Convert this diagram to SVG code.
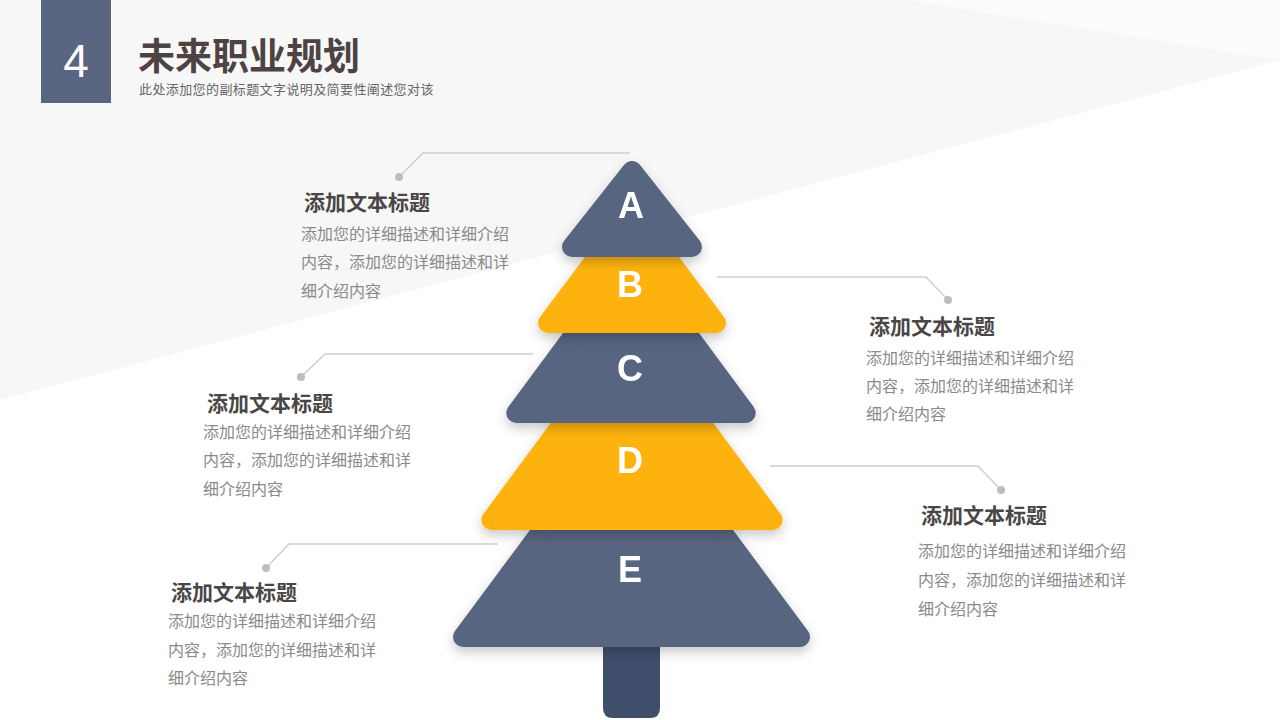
<svg xmlns="http://www.w3.org/2000/svg" width="1280" height="720" viewBox="0 0 1280 720">
<defs>
<style>
.slate{fill:#596581;stroke:#596581;stroke-width:20;stroke-linejoin:round}
.gold{fill:#feb20a;stroke:#feb20a;stroke-width:20;stroke-linejoin:round}
.ltr{font-family:"Liberation Sans",Arial,sans-serif;font-weight:bold;font-size:36px;fill:#ffffff;text-anchor:middle}
.ttl{font-family:"Noto Sans CJK SC","Liberation Sans",sans-serif;font-weight:bold;font-size:21px;fill:#4a4646}
.body{font-family:"Noto Sans CJK SC","Liberation Sans",sans-serif;font-size:16px;fill:#8a8a8a}
.con{fill:none;stroke:#cfcfcf;stroke-width:1.5}
.dot{fill:#bdbdbd}
</style>
<filter id="sh" x="-20%" y="-20%" width="140%" height="150%">
<feDropShadow dx="0" dy="5" stdDeviation="6" flood-color="#000000" flood-opacity="0.22"/>
</filter>
</defs>
<rect width="1280" height="720" fill="#ffffff"/>
<polygon points="0,0 1280,0 1280,60 0,400" fill="#f7f7f8"/>
<polygon points="910,0 1280,0 1280,60" fill="#fcfcfc"/>

<g id="header">
<rect x="41" y="0" width="70" height="103" fill="#596581"/>
<text x="76" y="77" font-family="Liberation Sans,Arial,sans-serif" font-size="46" fill="#ffffff" text-anchor="middle">4</text>
<text x="138" y="70" font-family="Noto Sans CJK SC,Liberation Sans,sans-serif" font-weight="bold" font-size="37" fill="#4d4343">未来职业规划</text>
<text x="139" y="94" font-family="Noto Sans CJK SC,Liberation Sans,sans-serif" font-size="13" letter-spacing="0.4" fill="#666666">此处添加您的副标题文字说明及简要性阐述您对该</text>
</g>

<g id="connectors">
<polyline class="con" points="630,153 423,153 399,177"/>
<circle class="dot" cx="399" cy="177" r="4"/>
<polyline class="con" points="717,277 926,277 948,300"/>
<circle class="dot" cx="948" cy="300" r="4"/>
<polyline class="con" points="533,354 325,354 301,377"/>
<circle class="dot" cx="301" cy="377" r="4"/>
<polyline class="con" points="770,466 978,466 1001,490"/>
<circle class="dot" cx="1001" cy="490" r="4"/>
<polyline class="con" points="498,544 289,544 266,568"/>
<circle class="dot" cx="266" cy="568" r="4"/>
</g>

<g id="trunk">
<path d="M603,640 H660 V708 Q660,718 650,718 H613 Q603,718 603,708 Z" fill="#3f4e6b"/>
</g>
<g id="layer-E" filter="url(#sh)">
<polygon class="slate" points="631.5,410 800,637 463,637"/>
<text class="ltr" x="630" y="582">E</text>
</g>
<g id="layer-D" filter="url(#sh)">
<polygon class="gold" points="632,330 772.6,520 491.4,520"/>
<text class="ltr" x="630" y="473">D</text>
</g>
<g id="layer-C" filter="url(#sh)">
<polygon class="slate" points="631,258 745.7,413 516.3,413"/>
<text class="ltr" x="630" y="381">C</text>
</g>
<g id="layer-B" filter="url(#sh)">
<polygon class="gold" points="632,211 716,323 548,323"/>
<text class="ltr" x="630" y="297">B</text>
</g>
<g id="layer-A" filter="url(#sh)">
<polygon class="slate" points="632,171 692,247 572,247"/>
<text class="ltr" x="631" y="218">A</text>
</g>

<g id="text-A">
<text class="ttl" x="304" y="210">添加文本标题</text>
<text class="body" x="301" y="240">添加您的详细描述和详细介绍</text>
<text class="body" x="301" y="268">内容，添加您的详细描述和详</text>
<text class="body" x="301" y="297">细介绍内容</text>
</g>
<g id="text-B">
<text class="ttl" x="869" y="334">添加文本标题</text>
<text class="body" x="866" y="364">添加您的详细描述和详细介绍</text>
<text class="body" x="866" y="392">内容，添加您的详细描述和详</text>
<text class="body" x="866" y="420">细介绍内容</text>
</g>
<g id="text-C">
<text class="ttl" x="207" y="411">添加文本标题</text>
<text class="body" x="203" y="438">添加您的详细描述和详细介绍</text>
<text class="body" x="203" y="466">内容，添加您的详细描述和详</text>
<text class="body" x="203" y="495">细介绍内容</text>
</g>
<g id="text-D">
<text class="ttl" x="921" y="523">添加文本标题</text>
<text class="body" x="918" y="557">添加您的详细描述和详细介绍</text>
<text class="body" x="918" y="586">内容，添加您的详细描述和详</text>
<text class="body" x="918" y="615">细介绍内容</text>
</g>
<g id="text-E">
<text class="ttl" x="171" y="600">添加文本标题</text>
<text class="body" x="168" y="627">添加您的详细描述和详细介绍</text>
<text class="body" x="168" y="656">内容，添加您的详细描述和详</text>
<text class="body" x="168" y="684">细介绍内容</text>
</g>
</svg>
